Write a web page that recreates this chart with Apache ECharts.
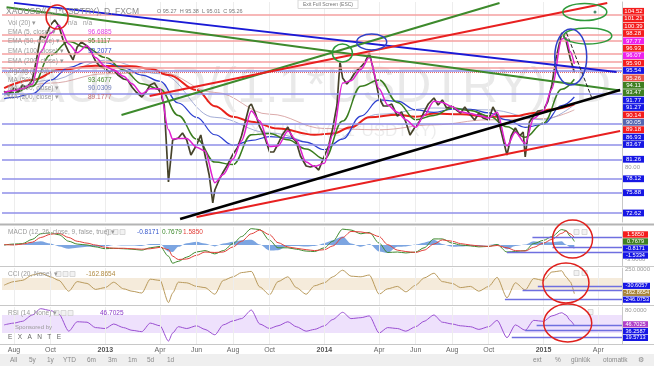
<!DOCTYPE html>
<html><head><meta charset="utf-8">
<script src="https://cdn.jsdelivr.net/npm/echarts@6.0.0/dist/echarts.min.js"></script>
<style>html,body{margin:0;padding:0;background:#fff;overflow:hidden}#c{width:654px;height:366px}</style>
</head><body><div id="c"></div>
<script>
// ---------- DATA ----------
const monthTicks = [7, 9, 12, 15, 17, 19, 21, 24, 27, 29, 31, 33, 36, 39]; // months since Jan 2012
const monthNames = ['Aug','Oct','2013','Apr','Jun','Aug','Oct','2014','Apr','Jun','Aug','Oct','2015','Apr'];

const priceDates = ['2012-07-15','2012-07-22','2012-08-01','2012-08-08','2012-08-15','2012-08-22','2012-09-01','2012-09-08','2012-09-15','2012-09-22','2012-10-01','2012-10-08','2012-10-15','2012-10-22','2012-11-01','2012-11-08','2012-11-15','2012-11-22','2012-12-01','2012-12-08','2012-12-15','2012-12-22','2013-01-01','2013-01-08','2013-01-15','2013-01-22','2013-02-01','2013-02-08','2013-02-15','2013-02-22','2013-03-01','2013-03-08','2013-03-15','2013-03-22','2013-04-01','2013-04-08','2013-04-15','2013-04-22','2013-05-01','2013-05-08','2013-05-15','2013-05-22','2013-06-01','2013-06-08','2013-06-15','2013-06-22','2013-06-28','2013-07-01','2013-07-08','2013-07-15','2013-07-22','2013-08-01','2013-08-08','2013-08-15','2013-08-22','2013-08-28','2013-09-01','2013-09-08','2013-09-15','2013-09-22','2013-10-01','2013-10-08','2013-10-15','2013-10-22','2013-11-01','2013-11-08','2013-11-15','2013-11-22','2013-12-01','2013-12-08','2013-12-15','2013-12-22','2014-01-01','2014-01-08','2014-01-15','2014-01-22','2014-01-27','2014-02-01','2014-02-08','2014-02-15','2014-02-22','2014-03-01','2014-03-08','2014-03-15','2014-03-22','2014-04-01','2014-04-08','2014-04-15','2014-04-22','2014-05-01','2014-05-08','2014-05-15','2014-05-22','2014-06-01','2014-06-08','2014-06-15','2014-06-22','2014-07-01','2014-07-08','2014-07-15','2014-07-22','2014-08-01','2014-08-08','2014-08-15','2014-08-22','2014-09-01','2014-09-08','2014-09-15','2014-09-22','2014-10-01','2014-10-08','2014-10-15','2014-10-22','2014-11-01','2014-11-08','2014-11-15','2014-11-22','2014-11-28','2014-12-01','2014-12-08','2014-12-15','2014-12-22','2015-01-01','2015-01-08','2015-01-15','2015-01-22','2015-01-27','2015-02-01','2015-02-08','2015-02-15','2015-02-22'];
const priceClose = [92.23,91.59,92.72,92.07,93.20,92.72,94.00,97.22,101.08,100.75,102.84,103.65,102.68,100.43,98.50,97.22,99.31,100.11,99.47,98.50,97.06,96.25,95.77,95.29,95.61,94.81,94.16,94.00,92.88,92.07,91.27,92.07,93.20,93.52,92.07,89.98,77.60,84.36,84.68,85.48,84.36,81.95,83.55,85.16,81.95,78.73,74.23,76.32,77.93,79.21,80.34,82.11,83.07,85.00,87.57,89.82,90.14,88.54,86.45,85.16,82.43,82.43,83.71,85.16,86.45,84.84,84.04,81.78,80.18,80.02,80.18,79.53,81.78,83.39,86.29,89.98,96.90,94.32,93.36,94.16,95.29,96.09,96.90,98.34,95.61,91.11,89.82,89.82,90.14,88.21,88.86,87.25,85.16,86.61,87.41,88.86,90.14,91.11,89.98,90.79,89.50,89.82,89.18,88.70,89.66,88.38,87.57,88.70,87.89,87.57,89.66,88.38,85.64,81.95,85.00,86.29,85.00,85.64,81.62,87.25,88.21,89.02,89.18,90.47,93.20,97.54,99.63,101.56,100.43,97.54,95.26];

const halfDates = ['2012-07-15','2012-08-01','2012-08-15','2012-09-01','2012-09-15','2012-10-01','2012-10-15','2012-11-01','2012-11-15','2012-12-01','2012-12-15','2013-01-01','2013-01-15','2013-02-01','2013-02-15','2013-03-01','2013-03-15','2013-04-01','2013-04-15','2013-04-22','2013-05-01','2013-05-15','2013-06-01','2013-06-15','2013-07-01','2013-07-15','2013-08-01','2013-08-15','2013-09-01','2013-09-15','2013-10-01','2013-10-15','2013-11-01','2013-11-15','2013-12-01','2013-12-15','2014-01-01','2014-01-15','2014-02-01','2014-02-15','2014-03-01','2014-03-15','2014-04-01','2014-04-15','2014-05-01','2014-05-15','2014-06-01','2014-06-15','2014-07-01','2014-07-15','2014-08-01','2014-08-15','2014-09-01','2014-09-15','2014-10-01','2014-10-15','2014-11-01','2014-11-15','2014-12-01','2014-12-15','2015-01-01','2015-01-15','2015-02-01','2015-02-08','2015-02-15','2015-02-22'];
const emaFast = [92.0,92.3,92.6,93.3,98.5,101.5,102.8,99.8,98.4,99.5,97.6,96.2,95.6,94.6,93.4,91.8,92.6,92.6,86.0,84.5,84.6,84.6,83.2,82.6,77.5,78.8,81.3,84.2,89.0,87.4,83.3,83.4,85.8,84.3,80.8,80.1,80.6,85.2,93.5,93.9,95.7,97.6,92.6,90.0,88.8,87.6,86.4,88.3,90.6,90.4,89.7,88.9,88.6,88.3,87.9,88.8,83.4,85.6,83.8,87.8,89.1,92.6,100.6,100.8,98.6,96.6];

const monthlyDates = ['2012-07-15','2012-08-01','2012-09-01','2012-10-01','2012-11-01','2012-12-01','2013-01-01','2013-02-01','2013-03-01','2013-04-01','2013-05-01','2013-06-01','2013-07-01','2013-08-01','2013-09-01','2013-10-01','2013-11-01','2013-12-01','2014-01-01','2014-02-01','2014-03-01','2014-04-01','2014-05-01','2014-06-01','2014-07-01','2014-08-01','2014-09-01','2014-10-01','2014-11-01','2014-12-01','2015-01-01','2015-02-01','2015-02-22'];
const emaMid = [91.8,92.0,93.0,98.0,100.2,99.2,97.6,95.6,93.4,92.5,88.3,84.5,80.8,80.4,85.2,85.4,84.4,82.9,81.3,87.4,93.0,94.0,90.4,87.6,88.3,89.5,89.1,88.2,86.5,84.8,87.1,92.5,94.11];
const emaSlow = [91.0,91.2,91.8,94.0,96.0,96.9,96.8,96.0,94.8,93.8,90.3,88.0,85.2,83.5,84.3,84.9,84.7,84.0,82.8,84.5,88.2,90.8,90.6,89.2,88.8,89.3,89.3,88.7,87.6,86.4,86.9,89.9,91.27];

const ema200Dates = ['2012-07-15','2012-09-01','2012-10-15','2012-12-15','2013-02-15','2013-03-15','2013-04-15','2013-06-01','2013-07-01','2013-08-01','2013-09-01','2013-10-15','2013-12-15','2014-01-15','2014-02-15','2014-03-15','2014-05-01','2014-06-01','2014-07-01','2014-08-15','2014-10-01','2014-11-15','2014-12-15','2015-01-15','2015-02-22'];
const ema200 = [92.7,94.0,95.6,96.3,96.2,95.8,94.8,92.4,89.8,88.1,87.3,86.2,85.2,85.4,86.4,88.0,88.4,88.1,88.6,88.5,88.1,88.2,88.7,89.3,90.1];

const smaDates = ['2012-07-15','2012-10-01','2013-01-01','2013-04-01','2013-07-01','2013-10-01','2014-01-01','2014-04-01','2014-07-01','2014-10-01','2015-01-01','2015-02-22'];
const smaLong = [92.0,93.5,95.0,95.3,92.0,88.5,86.2,86.0,86.8,87.6,87.8,89.2];
const smaMid = [91.5,94.0,97.2,95.0,88.0,85.5,83.5,88.5,89.5,89.2,87.6,90.05];

const resistanceLevels = [104.52, 101.21, 100.39, 98.28, 96.93, 95.90];
const supportLevels = [95.54, 91.77, 86.93, 83.67, 81.26, 78.12, 75.88, 72.62];
const lastPrice = 95.26;
const priceTagValues = [104.52,101.21,100.39,98.28,97.77,96.93,96.07,95.90,95.54,95.26,94.11,93.47,91.77,91.27,90.14,90.05,89.18,86.93,83.67,81.26,78.12,75.88,72.62];
const priceTagKinds  = ['r','r','r','r','m','r','m','r','b','l','g','g','b','b','r','s','r','b','b','b','b','b','b'];

const trendBlue      = [['2012-08-01',106.4],['2015-05-01',95.3]];
const trendGreenDown = [['2012-07-19',105.7],['2015-05-07',92.3]];
const trendGreenUp   = [['2013-01-28',88.38],['2014-10-19',106.38]];
const trendRedUp     = [['2013-03-14',91.43],['2015-04-16',106.38]];
const trendRedLow    = [['2013-06-01',71.98],['2015-05-07',85.8]];
const trendBlack     = [['2013-05-04',71.66],['2015-05-07',92.4]];
const projection     = [['2015-02-09',101.56],['2015-03-22',90.79]];

const macdLine   = [0.0,0.2,0.3,1.2,2.4,2.6,2.2,0.8,0.2,0.0,-0.4,-0.8,-0.7,-0.8,-0.9,-1.1,-0.6,-0.3,-2.4,-3.9,-3.5,-2.6,-1.5,-1.2,-1.9,-1.2,0.3,1.8,3.5,3.3,1.0,-0.6,-0.6,-0.9,-1.3,-1.4,-0.6,0.8,3.4,3.2,2.4,2.7,0.4,-1.6,-1.5,-1.7,-1.5,-0.6,1.3,1.3,0.4,0.0,-0.2,-0.4,-0.3,0.1,-1.5,-1.4,-1.2,0.3,1.0,1.8,3.3,3.1,1.9,0.7679];
const macdSignal = [0.1,0.0,0.2,0.6,1.6,2.3,2.5,1.6,0.8,0.4,0.0,-0.5,-0.7,-0.7,-0.8,-0.9,-0.8,-0.5,-1.0,-2.4,-3.1,-3.0,-2.2,-1.5,-1.6,-1.5,-0.4,0.8,2.4,3.2,2.2,0.5,-0.4,-0.7,-1.0,-1.2,-1.0,-0.2,1.6,2.9,2.8,2.5,1.8,0.1,-1.1,-1.4,-1.6,-1.1,0.2,1.1,0.8,0.3,0.0,-0.2,-0.3,-0.1,-0.6,-1.2,-1.3,-0.5,0.4,1.2,2.5,3.0,2.4,1.585];
const macdHist   = [-0.1,0.2,0.1,0.6,0.8,0.3,-0.3,-0.8,-0.6,-0.4,-0.4,-0.3,0.0,-0.1,-0.1,-0.2,0.2,0.2,-1.4,-1.5,-0.4,0.4,0.7,0.3,-0.3,0.3,0.7,1.0,1.1,0.1,-1.2,-1.1,-0.2,-0.2,-0.3,-0.2,0.4,1.0,1.8,0.3,-0.4,0.2,-1.4,-1.7,-0.4,-0.3,0.1,0.5,1.1,0.2,-0.4,-0.3,-0.2,-0.2,0.0,0.2,-0.9,-0.2,0.1,0.8,0.6,0.6,0.8,0.1,-0.5,-0.8171];
const cciValues  = [-20,40,60,150,180,120,60,-120,40,10,-90,-60,30,-80,-120,-150,80,60,-310,-150,30,20,-40,-60,-170,60,120,190,210,-50,-180,40,120,-60,-170,-30,20,120,230,130,120,150,-170,-80,-40,-130,-20,100,180,40,10,-60,-40,-120,-40,110,-230,20,-100,90,60,200,220,120,40,-162.8654];
const rsiValues  = [48,52,56,70,84,80,72,34,55,54,42,40,50,42,36,33,52,46,12,30,44,40,46,38,26,48,57,62,81,50,40,46,55,44,34,38,46,60,76,62,64,68,30,42,40,34,44,56,70,54,50,46,44,38,44,58,19.6,48,36,58,56,68,75,70,58,46.7025];

const macdLevels = [['2014-12-13',1.70],['2015-01-16',-0.43],['2014-11-01',-1.5334]];
const cciLevels  = [['2014-12-22',-30.6057],['2014-11-27',-100],['2014-10-28',-246.0753]];
const rsiLevels  = [['2014-12-20',47.8],['2014-12-01',36.2587],['2014-11-09',19.5713]];
const macdTags = [1.5850, 0.7679, -0.8171, -1.5334];
const cciTags  = [-30.6057, -162.8654, -246.0753];
const rsiTags  = [46.7025, 36.2587, 19.5713];
const cciBand = [-100, 100];
const rsiBand = [30, 70];

const annotations = [
  {g:0, at:['2012-10-12',104.13], rx:11, ry:12, c:'#e0201c'},
  {g:0, at:['2014-01-31',98.34], rx:10, ry:9, c:'#2f9a3a'},
  {g:0, at:['2014-03-19',100.11], rx:15, ry:8, c:'#3040c8'},
  {g:0, at:['2015-03-09',104.93], rx:22, ry:8.5, c:'#2f9a3a'},
  {g:0, at:['2015-03-14',101.08], rx:24, ry:8, c:'#2f9a3a'},
  {g:0, at:['2015-02-16',97.70], rx:16, ry:28, c:'#3040c8'},
  {g:1, at:['2015-02-19',1.28], rx:20, ry:19, c:'#e0201c'},
  {g:2, at:['2015-02-08',16.7], rx:23, ry:20, c:'#e0201c'},
  {g:3, at:['2015-02-11',52.2], rx:24, ry:19, c:'#e0201c'}
];

// ---------- HELPERS ----------
const toM = s => { const p = s.split('-').map(Number); return (p[0]-2012)*12 + (p[1]-1) + (p[2]-1)/30.44; };
const pairs = (dates, vals) => dates.map((d,i)=>[toM(d), vals[i]]);
const FONT = '"Liberation Sans", Arial, sans-serif';
const XMIN = 6.343, XMAX = 40.30;
const grids = [
  {left:2, right:32, top:2, height:220},
  {left:2, right:32, top:227, height:39},
  {left:2, right:32, top:268, height:37},
  {left:2, right:32, top:307, height:37}
];
const yRanges = [[71.173,106.54],[-4.497,3.854],[-350,266.7],[5.56,87.78]];
const yLabelVals = [[76,80,84],[-3],[250],[80]];
const yDec = [2,4,4,4];

const chart = echarts.init(document.getElementById('c'), null, {renderer:'canvas', width:654, height:366});

const xAxes = grids.map((g,i)=>({
  type:'value', gridIndex:i, min:XMIN, max:XMAX,
  axisLine:{show:false}, axisTick:{show:false}, splitLine:{show:false},
  axisLabel: i===3 ? {
    show:true, customValues: monthTicks, margin:3, fontSize:7, color:'#666', fontFamily:FONT,
    formatter: v => { const k = monthTicks.findIndex(t=>Math.abs(t-v)<1e-6); const s = k>=0?monthNames[k]:''; return /^\d/.test(s)?'{b|'+s+'}':s; },
    rich:{b:{fontWeight:'bold', color:'#555', fontSize:7, fontFamily:FONT}}
  } : {show:false}
}));
const yAxes = grids.map((g,i)=>({
  type:'value', gridIndex:i, position:'right', min:yRanges[i][0], max:yRanges[i][1],
  axisLine:{show:true, lineStyle:{color:'#c8c8c8', width:1}}, axisTick:{show:false}, splitLine:{show:false},
  axisLabel:{show:true, customValues:yLabelVals[i], margin:3, fontSize:6, color:'#9a9a9a', fontFamily:FONT, formatter: v=>v.toFixed(yDec[i])}
}));

function L(dates, vals, color, width, gi, extra){
  return Object.assign({type:'line', xAxisIndex:gi, yAxisIndex:gi, data:pairs(dates, vals), showSymbol:false, symbol:'none',
    lineStyle:{color, width}, silent:true, animation:false, z:3, smoothMonotone:'x'}, extra||{});
}
const vGrid = monthTicks.map(m=>({xAxis:m, lineStyle:{color:'#ededed', width:1, type:'solid'}}));

const mainMarks = vGrid
  .concat(resistanceLevels.map(v=>({yAxis:v, lineStyle:{color:'#f4a0a0', width:1.5, type:'solid'}})))
  .concat(supportLevels.map(v=>({yAxis:v, lineStyle:{color:'#8f8fe8', width:1.5, type:'solid'}})))
  .concat([{yAxis:lastPrice, lineStyle:{color:'#e86a6a', width:1, type:'dotted'}}]);

function seg(levels){ return levels.map(l=>[{coord:[toM(l[0]), l[1]]},{coord:[XMAX, l[1]]}]); }
const segStyle = {color:'#6f6fe0', width:1.3, type:'solid'};

function trend(pts, color, width, type){
  return {type:'line', xAxisIndex:0, yAxisIndex:0, data:pts.map(p=>[toM(p[0]), p[1]]), showSymbol:false, symbol:'none',
    lineStyle:{color, width, type:type||'solid'}, silent:true, animation:false, z:6};
}

const series = [
  L(smaDates, smaLong, '#d29494', 0.8, 0, {z:2, smooth:0.4, markLine:{symbol:'none', silent:true, label:{show:false}, data:mainMarks, animation:false}}),
  L(smaDates, smaMid, '#8d98cc', 0.8, 0, {z:2, smooth:0.4}),
  L(ema200Dates, ema200, '#e8221b', 2, 0, {smooth:0.4}),
  L(monthlyDates, emaSlow, '#2b3ed0', 1.2, 0, {smooth:0.4}),
  L(monthlyDates, emaMid, '#3a7d1f', 1.5, 0, {smooth:0.4}),
  L(priceDates, priceClose, '#46432a', 1.7, 0, {z:4}),
  L(halfDates, emaFast, '#e020d0', 1.5, 0, {z:5, smooth:0.3}),
  trend(trendBlue, '#1a1ad6', 2),
  trend(trendGreenDown, '#3d8a2c', 2),
  trend(trendGreenUp, '#3d8a2c', 2),
  trend(trendRedUp, '#e82020', 2),
  trend(trendRedLow, '#e82020', 2),
  trend(trendBlack, '#000000', 2.6),
  trend(projection, '#222222', 1, 'dashed'),
  // MACD
  L(halfDates, macdHist, 'rgba(0,0,0,0)', 0, 1, {z:2, smooth:0.3, areaStyle:{color:'#5b8fd9', opacity:0.8, origin:0},
    markLine:{symbol:'none', silent:true, label:{show:false}, animation:false,
      data: vGrid.concat(seg(macdLevels).map(s=>{s[0].lineStyle=segStyle; return s;}))}}),
  L(halfDates, macdLine, '#3e8a2e', 1, 1, {smooth:0.3}),
  L(halfDates, macdSignal, '#e2403a', 1, 1, {smooth:0.3}),
  // CCI
  L(halfDates, cciValues, '#b99a5c', 1, 2, {smooth:0.25,
    markArea:{silent:true, itemStyle:{color:'rgba(232,210,176,0.45)'}, data:[[{yAxis:cciBand[0]},{yAxis:cciBand[1]}]]},
    markLine:{symbol:'none', silent:true, label:{show:false}, animation:false,
      data: vGrid.concat(seg(cciLevels).map(s=>{s[0].lineStyle=segStyle; return s;}))}}),
  // RSI
  L(halfDates, rsiValues, '#9a4fd2', 1, 3, {smooth:0.25,
    markArea:{silent:true, itemStyle:{color:'rgba(206,170,245,0.35)'}, data:[[{yAxis:rsiBand[0]},{yAxis:rsiBand[1]}]]},
    markLine:{symbol:'none', silent:true, label:{show:false}, animation:false,
      data: vGrid.concat(seg(rsiLevels).map(s=>{s[0].lineStyle=segStyle; return s;}))}})
];

chart.setOption({
  animation:false, backgroundColor:'#ffffff',
  grid: grids, xAxis: xAxes, yAxis: yAxes, series
});

// ---------- GRAPHICS (texts, tags, annotations) ----------
const G = [];
function T(x, y, text, size, color){
  G.push({type:'text', z:50, silent:true, style:{x, y, text, fill:color, font:size+'px '+FONT, textAlign:'left', textVerticalAlign:'middle', align:'left', verticalAlign:'middle'}});
}
// watermark
G.push({type:'text', z:0, silent:true, style:{x:-2, y:88, text:'XAUUSD/(1.1*USDTRY), D', fill:'rgba(0,0,0,0.085)', font:'50px '+FONT, textVerticalAlign:'middle', verticalAlign:'middle'}});
G.push({type:'text', z:0, silent:true, style:{x:250, y:131, text:'XAUUSD/(1.1*USDTRY)', fill:'rgba(0,0,0,0.075)', font:'17px '+FONT, textVerticalAlign:'middle', verticalAlign:'middle'}});

// pane separators and toolbar
[[224.5,2,'#b4b4b4'],[266.5,1,'#c8c8c8'],[305.5,1,'#c8c8c8'],[344.5,1,'#c8c8c8']].forEach(s=>{
  G.push({type:'line', z:40, silent:true, shape:{x1:0,y1:s[0],x2:654,y2:s[0]}, style:{stroke:s[2], lineWidth:s[1]}});
});
G.push({type:'rect', z:40, silent:true, shape:{x:0,y:354,width:654,height:12}, style:{fill:'#efefef'}});
[['All',10],['5y',29],['1y',47],['YTD',63],['6m',87],['3m',108],['1m',128],['5d',147],['1d',167]].forEach(b=>T(b[1],360,b[0],6.5,'#8a8a8a'));
[['ext',533],['%',555],['günlük',571],['otomatik',603],['⚙',638]].forEach(b=>T(b[1],360,b[0],6.5,'#8a8a8a'));

// Exit full screen
G.push({type:'rect', z:45, silent:true, shape:{x:298,y:0,width:60,height:8.5}, style:{fill:'#fff', stroke:'#d8d8d8', lineWidth:1}});
G.push({type:'text', z:46, silent:true, style:{x:328, y:4.5, text:'Exit Full Screen (ESC)', fill:'#777', font:'5px '+FONT, textAlign:'center', align:'center', textVerticalAlign:'middle', verticalAlign:'middle'}});

// header and legends
T(6, 12, 'XAUUSD/(1.1*USDTRY), D, FXCM', 8.5, '#8c8c8c');
T(157, 11, 'O 95.27  H 95.38  L 95.01  C 95.26', 5.5, '#777');
const legendRows = [
  ['Vol (20) ▾', null, null, 23],
  ['EMA (5, close) ▾', '96.6885', '#e040e0', 32],
  ['EMA (50, close) ▾', '95.1117', '#4a8a2e', 41],
  ['EMA (100, close) ▾', '92.2077', '#3344cc', 51],
  ['EMA (200, close) ▾', null, null, 61],
  ['ZigZag (5, 10) ▾', null, null, 71],
  ['MA (50) ▾', '93.4677', '#4a8a2e', 80],
  ['MA (100, close) ▾', '90.0309', '#6a78b8', 88],
  ['MA (200, close) ▾', '89.1777', '#c97070', 97]
];
legendRows.forEach(r=>{ T(8, r[3], r[0], 6.5, '#9a9a9a'); if(r[1]) T(88, r[3], r[1], 6.5, r[2]); });
T(68, 23, 'n/a', 6.5, '#9a9a9a'); T(83, 23, 'n/a', 6.5, '#9a9a9a');

T(8, 232, 'MACD (12, 26, close, 9, false, true) ▾', 6.5, '#9a9a9a');
T(137, 232, '-0.8171', 6.5, '#3355cc'); T(162, 232, '0.7679', 6.5, '#3e8a2e'); T(183, 232, '1.5850', 6.5, '#e2403a');
T(8, 274, 'CCI (20, None) ▾', 6.5, '#9a9a9a'); T(86, 274, '-162.8654', 6.5, '#b08a40');
T(8, 313, 'RSI (14, None) ▾', 6.5, '#9a9a9a'); T(100, 313, '46.7025', 6.5, '#8a3ac8');
T(15, 327, 'Sponsored by', 6, '#9a9a9a');
T(8, 337, 'E   X   A   N   T   E', 6.5, '#666');
[[106,232],[113,232],[120,232],[56,274],[63,274],[70,274],[54,313],[61,313],[68,313],[574,232],[582,232],[574,273],[582,273],[588,312]].forEach(p=>{
  G.push({type:'rect', z:45, silent:true, shape:{x:p[0],y:p[1]-2.5,width:5,height:5}, style:{fill:'#f2f2f2', stroke:'#cfcfcf', lineWidth:0.8}});
});

// annotations (ellipses)
annotations.forEach(a=>{
  const p = chart.convertToPixel({xAxisIndex:a.g, yAxisIndex:a.g}, [toM(a.at[0]), a.at[1]]);
  G.push({type:'ellipse', z:60, silent:true, shape:{cx:p[0], cy:p[1], rx:a.rx, ry:a.ry}, style:{fill:'none', stroke:a.c, lineWidth:1.5}});
});
G.push({type:'circle', z:60, silent:true, shape:{cx:595, cy:12, r:1.5}, style:{fill:'#4a8a6a'}});

// price tags with collision stacking
function stack(items, h, minTop, maxBottom){
  items.sort((a,b)=>a.y-b.y);
  const cl = [];
  items.forEach(it=>{
    cl.push({items:[it], sum:it.y, top:it.y-h/2});
    while(cl.length>1){
      const c = cl[cl.length-1], p = cl[cl.length-2];
      if(p.top + p.items.length*h > c.top){
        p.items = p.items.concat(c.items); p.sum += c.sum;
        p.top = p.sum/p.items.length - p.items.length*h/2; cl.pop();
      } else break;
    }
  });
  cl.forEach(c=>{
    if(c.top < minTop) c.top = minTop;
    if(c.top + c.items.length*h > maxBottom) c.top = maxBottom - c.items.length*h;
    c.items.forEach((it,i)=>{ it.py = c.top + i*h + h/2; });
  });
  return items;
}
function tags(gi, vals, colors, dec, h, w, fs, minTop, maxBottom){
  const items = vals.map((v,i)=>({v, c:colors[i], y:chart.convertToPixel({yAxisIndex:gi}, v)}));
  stack(items, h, minTop, maxBottom).forEach(it=>{
    G.push({type:'rect', z:70, silent:true, shape:{x:623, y:it.py-h/2+0.3, width:w, height:h-0.6}, style:{fill:it.c}});
    G.push({type:'text', z:71, silent:true, style:{x:623+w/2, y:it.py, text:it.v.toFixed(dec), fill:'#fff', font:fs+'px '+FONT, textAlign:'center', align:'center', textVerticalAlign:'middle', verticalAlign:'middle'}});
  });
}
const kindColor = {r:'#f41c1c', m:'#ec22ec', b:'#1616e4', l:'#e8564a', g:'#3f7f21', s:'#5566b2'};
tags(0, priceTagValues, priceTagKinds.map(k=>kindColor[k]), 2, 7.4, 21, 6, 2, 222);
tags(1, macdTags, ['#f41c1c','#3f7f21','#1616e4','#1616e4'], 4, 7, 25, 5.6, 227, 266);
tags(2, cciTags, ['#1616e4','#a8843a','#1616e4'], 4, 6.8, 27, 5.6, 268, 305);
tags(3, rsiTags, ['#b040c8','#1616e4','#1616e4'], 4, 6.8, 25, 5.6, 307, 344);

chart.setOption({graphic:{elements:G}});
</script>
</body></html>
